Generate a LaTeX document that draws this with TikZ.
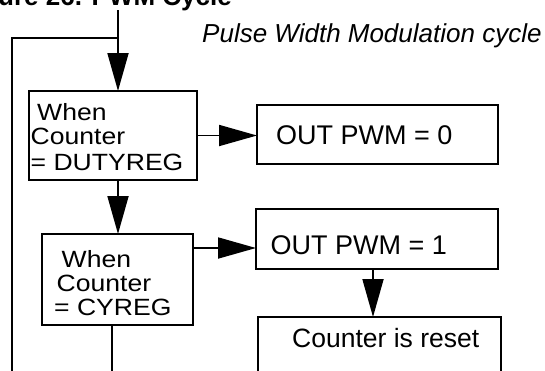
\documentclass[tikz,border=0pt]{standalone}
\usepackage{fontspec}
\setmainfont{Liberation Sans}
\newfontfamily\boxfont[FakeStretch=1.13]{Liberation Sans}
\usetikzlibrary{arrows.meta}
\tikzset{
  box/.style={draw, line width=1.8pt, inner sep=0pt, outer sep=0pt},
  conn/.style={line width=1.8pt},
  arr/.style={conn, -{Triangle[length=38pt,width=21pt]}},
  condtxt/.style={anchor=base west, inner sep=0pt, font=\boxfont\fontsize{23.5}{25}\selectfont},
  outtxt/.style={anchor=base west, inner sep=0pt, font=\fontsize{27}{30}\selectfont},
}
\begin{document}
\begin{tikzpicture}[x=1pt,y=-1pt]
\useasboundingbox (0,0) rectangle (545,370);
\clip (0,0) rectangle (545,370);
% title (cut off at the top)
\node[anchor=base east, inner sep=0pt, font=\bfseries\fontsize{26}{28}\selectfont] (title) at (232,5) {Figure 26. PWM Cycle};
\node[anchor=base west, inner sep=0pt, font=\itshape\fontsize{26}{28}\selectfont] (caption) at (202,42) {Pulse Width Modulation cycle};
% boxes
\node[box, minimum width=168pt, minimum height=89pt] (b1) at (113,135.5) {};
\node[box, minimum width=241pt, minimum height=59pt] (b2) at (377.5,134.5) {};
\node[box, minimum width=151pt, minimum height=91pt] (b3) at (117.5,279.5) {};
\node[box, minimum width=242pt, minimum height=60pt] (b4) at (377,239) {};
\node[box, minimum width=243pt, minimum height=103pt] (b5) at (379.5,368.5) {};
% texts
\node[condtxt] (t1a) at (37,120) {When};
\node[condtxt] (t1b) at (30.5,144.5) {Counter};
\node[condtxt] (t1c) at (30.5,170) {= DUTYREG};
\node[condtxt] (t3a) at (61.5,267) {When};
\node[condtxt] (t3b) at (56.5,291) {Counter};
\node[condtxt] (t3c) at (54,315) {= CYREG};
\node[outtxt] (t2) at (276,144) {OUT PWM = 0};
\node[outtxt] (t4) at (270.5,254) {OUT PWM = 1};
\node[outtxt, font=\fontsize{26.5}{30}\selectfont] (t5) at (292,347) {Counter is reset};
% connectors
\coordinate (top) at (118,10);
\coordinate (j) at (118,38);
\coordinate (lb) at (12,380);
\draw[arr] (top) -- (top |- b1.north);
\draw[conn] (lb) |- (j);
\draw[arr] (b1.east) -- (b1.east -| b2.west);
\draw[arr] (b1.south -| top) -- (top |- b3.north);
\path (b3.north east) ++(0,14) coordinate (b3o);
\draw[arr] (b3o) -- (b3o -| b4.west);
\path (b4.south) ++(-4,0) coordinate (b4o);
\draw[arr] (b4o) -- (b4o |- b5.north);
\path (b3.south) ++(-5.5,0) coordinate (b3d);
\coordinate (e3) at (112,380);
\draw[conn] (b3d) -- (b3d |- e3);
\end{tikzpicture}
\end{document}
